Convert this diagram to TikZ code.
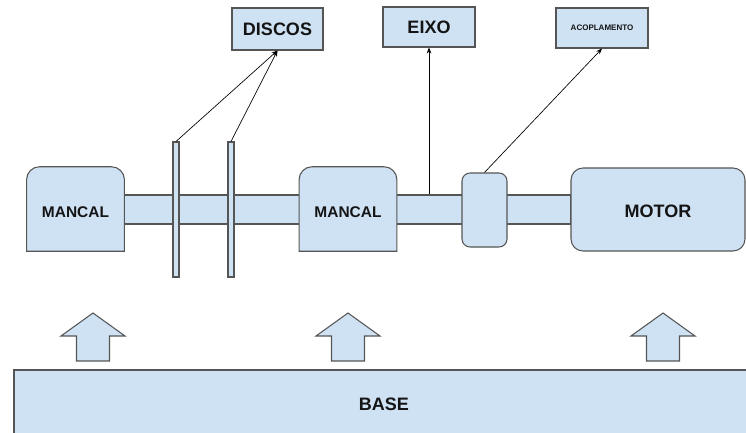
\documentclass[tikz,border=0pt]{standalone}
\usepackage{fontspec}
\setmainfont{Liberation Sans}
\usetikzlibrary{arrows.meta,backgrounds,fit}

\definecolor{partfill}{RGB}{207,226,243}
\definecolor{partline}{RGB}{85,85,85}
\definecolor{inktext}{RGB}{20,20,20}

\tikzset{
  part/.style={draw=partline, fill=partfill, line width=0.8pt, inner sep=0pt, text=inktext},
  tagbox/.style={part, minimum width=69pt, minimum height=30pt},
  mancal/.style={inner sep=0pt, minimum width=73pt, minimum height=63pt, text=inktext,
    text height=13.5pt, font=\bfseries\fontsize{11.6}{14}\selectfont},
  ptr/.style={draw=black, line width=0.5pt, -{Stealth[length=4.5pt,width=3.5pt]}},
}

\begin{document}
\begin{tikzpicture}[x=0.75pt,y=0.75pt,yscale=-1,xscale=1]
\useasboundingbox (0,0) rectangle (746,432);
\clip (0,0) rectangle (746,432);

% etiquetas
\node[tagbox, minimum width=68.25pt, minimum height=31.5pt, font=\bfseries\fontsize{13.5}{16}\selectfont] (discos) at (277.5,29) {DISCOS};
\node[tagbox, font=\bfseries\fontsize{13.5}{16}\selectfont] (eixo) at (429,27) {EIXO};
\node[tagbox, font=\bfseries\fontsize{6}{7}\selectfont] (acopl) at (602,28) {ACOPLAMENTO};

% mancais (contorno no fundo)
\node[mancal] (m1) at (75.5,209) {MANCAL};
\node[mancal] (m2) at (348,209) {MANCAL};

% acoplamento e motor
\node[part, rounded corners=6pt, minimum width=33.75pt, minimum height=55.5pt] (acop) at (484.5,210) {};
\node[part, rounded corners=9pt, minimum width=130.5pt, minimum height=62.25pt, text height=11.5pt,
  font=\bfseries\fontsize{13.5}{16}\selectfont] (motor) at (658,209.5) {MOTOR};

% discos
\node[part, minimum width=4.5pt, minimum height=101.25pt] (d1) at (176,209.5) {};
\node[part, minimum width=4.5pt, minimum height=101.25pt] (d2) at (231,209.5) {};

\begin{scope}[on background layer]
\node[part, fit={(m1.east |- 0,195) (motor.west |- 0,224)}] (shaft) {};
\draw[part] (m1.south west) [rounded corners=9.75pt] -- (m1.north west) -- (m1.north east) [sharp corners] -- (m1.south east) -- cycle;
\draw[part] (m2.south west) [rounded corners=9.75pt] -- (m2.north west) -- (m2.north east) [sharp corners] -- (m2.south east) -- cycle;
\end{scope}

% setas
\draw[ptr] (d1.north) -- (discos.south);
\draw[ptr] (d2.north) -- (discos.south);
\draw[ptr] (shaft.north -| eixo.south) -- (eixo.south);
\draw[ptr] (acop.north) -- (acopl.south);

% apoios
\foreach \ax in {93,348,663}
  \draw[part] (\ax,313) -- (\ax+32,336) -- (\ax+16.5,336) -- (\ax+16.5,361)
    -- (\ax-16.5,361) -- (\ax-16.5,336) -- (\ax-32,336) -- cycle;

% base
\node[part, minimum width=555pt, minimum height=51.75pt, font=\bfseries\fontsize{13.5}{16}\selectfont] (base) at (384,404.5) {BASE};
\end{tikzpicture}
\end{document}
